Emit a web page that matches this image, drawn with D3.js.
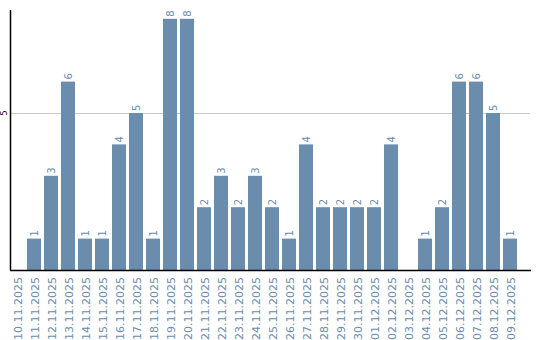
<!DOCTYPE html>
<html>
<head>
<meta charset="utf-8">
<script src="https://cdn.jsdelivr.net/npm/d3@7"></script>
<style>
  body { margin: 0; background: #fff; }
  svg text { font-family: "DejaVu Sans", sans-serif; }
</style>
</head>
<body>
<div id="chart"></div>
<script>
const dates = ['10.11.2025', '11.11.2025', '12.11.2025', '13.11.2025', '14.11.2025', '15.11.2025',
  '16.11.2025', '17.11.2025', '18.11.2025', '19.11.2025', '20.11.2025', '21.11.2025',
  '22.11.2025', '23.11.2025', '24.11.2025', '25.11.2025', '26.11.2025', '27.11.2025',
  '28.11.2025', '29.11.2025', '30.11.2025', '01.12.2025', '02.12.2025', '03.12.2025',
  '04.12.2025', '05.12.2025', '06.12.2025', '07.12.2025', '08.12.2025', '09.12.2025'];
const counts = [0, 1, 3, 6, 1, 1, 4, 5, 1, 8, 8, 2, 3, 2, 3, 2, 1, 4, 2, 2, 2, 2, 4, 0, 1, 2, 6, 6, 5, 1];
const yTicks = [5];

const width = 540, height = 340;
const plot = { left: 10, right: 530, top: 10, bottom: 270 };

const svg = d3.select('#chart').append('svg')
  .attr('width', width)
  .attr('height', height);

const x = d3.scaleBand()
  .domain(dates)
  .range([plot.left, plot.right])
  .paddingInner(0.176)
  .paddingOuter(0.382)
  .align(0);

const y = d3.scaleLinear()
  .domain([0, 8.28])
  .range([plot.bottom, plot.top]);

// grid
svg.append('g')
  .selectAll('line')
  .data(yTicks)
  .enter()
  .append('line')
  .attr('x1', plot.left)
  .attr('x2', plot.right)
  .attr('y1', d => Math.round(y(d)) + 0.5)
  .attr('y2', d => Math.round(y(d)) + 0.5)
  .attr('stroke', '#c8c8c8')
  .attr('stroke-width', 1);

// y tick labels
svg.append('g')
  .selectAll('text')
  .data(yTicks)
  .enter()
  .append('text')
  .attr('transform', d => `translate(4,${y(d)}) rotate(-90)`)
  .attr('text-anchor', 'middle')
  .attr('dy', '0.35em')
  .attr('font-size', 8)
  .attr('fill', '#000')
  .text(d => d);

// bars
svg.append('g')
  .selectAll('rect')
  .data(counts)
  .enter()
  .append('rect')
  .attr('x', (d, i) => x(dates[i]))
  .attr('y', d => y(d))
  .attr('width', x.bandwidth())
  .attr('height', d => plot.bottom - y(d))
  .attr('fill', '#6a8cad');

// value labels
svg.append('g')
  .selectAll('text')
  .data(counts.map((v, i) => ({ v, i })).filter(d => d.v > 0))
  .enter()
  .append('text')
  .attr('transform', d => `translate(${x(dates[d.i]) + x.bandwidth() / 2},${y(d.v) - 2}) rotate(-90)`)
  .attr('text-anchor', 'start')
  .attr('dy', '0.35em')
  .attr('font-size', 10)
  .attr('fill', '#6a8cad')
  .text(d => d.v);

// axes lines
svg.append('line')
  .attr('x1', plot.left + 0.5).attr('x2', plot.left + 0.5)
  .attr('y1', plot.top).attr('y2', plot.bottom)
  .attr('stroke', '#000').attr('stroke-width', 1.5);

svg.append('line')
  .attr('x1', plot.left).attr('x2', plot.right + 1)
  .attr('y1', plot.bottom + 0.5).attr('y2', plot.bottom + 0.5)
  .attr('stroke', '#000').attr('stroke-width', 1.5);

// x tick labels
svg.append('g')
  .selectAll('text')
  .data(dates)
  .enter()
  .append('text')
  .attr('transform', d => `translate(${x(d) + x.bandwidth() / 2 + 1},277) rotate(-90)`)
  .attr('text-anchor', 'end')
  .attr('dy', '0.35em')
  .attr('font-size', 11)
  .attr('fill', '#6a8cad')
  .text(d => d);
</script>
</body>
</html>
